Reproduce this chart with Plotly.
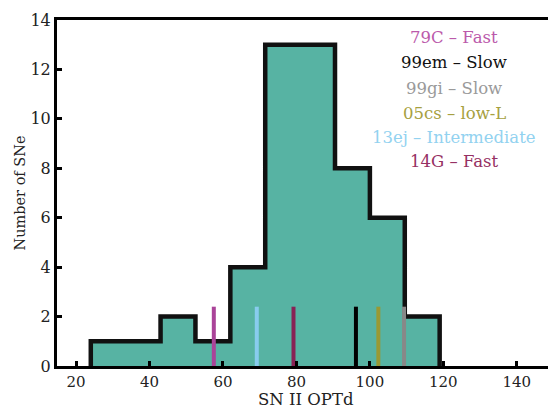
import plotly.graph_objects as go

# Histogram of SN II OPTd values
bin_edges = [24.0, 33.5, 43.0, 52.5, 62.0, 71.5, 81.0, 90.5, 100.0, 109.5, 119.0]
counts = [1, 1, 2, 1, 4, 13, 13, 8, 6, 2]

# Reference supernovae
sn_names = ["79C – Fast", "99em – Slow", "99gi – Slow", "05cs – low-L",
            "13ej – Intermediate", "14G – Fast"]
sn_optd = [57.5, 96.2, 109.3, 102.3, 69.2, 79.2]
sn_line_colors = ["#AA4499", "#000000", "#888888", "#999933", "#88CCEE", "#882255"]
sn_text_colors = ["#bb5aab", "#111111", "#9a9a9a", "#a6a040", "#92d2f0", "#963063"]
marker_height = 2.4

x_ticks = [20, 40, 60, 80, 100, 120, 140]
y_ticks = [0, 2, 4, 6, 8, 10, 12, 14]

FONT = "DejaVu Serif"
fill_color = "#57b3a3"

fig = go.Figure()

centers = [(a + b) / 2 for a, b in zip(bin_edges[:-1], bin_edges[1:])]
widths = [b - a for a, b in zip(bin_edges[:-1], bin_edges[1:])]
fig.add_trace(go.Bar(x=centers, y=counts, width=widths, marker_color=fill_color,
                     marker_line_width=0, showlegend=False, hoverinfo="skip"))

# step outline around the histogram
sx, sy = [bin_edges[0]], [0]
for i, c in enumerate(counts):
    sx += [bin_edges[i], bin_edges[i + 1]]
    sy += [c, c]
sx.append(bin_edges[-1])
sy.append(0)
fig.add_trace(go.Scatter(x=sx, y=sy, mode="lines",
                         line=dict(color="#111111", width=4.5),
                         showlegend=False, hoverinfo="skip"))

for xv, col in zip(sn_optd, sn_line_colors):
    fig.add_trace(go.Scatter(x=[xv, xv], y=[0, marker_height], mode="lines",
                             line=dict(color=col, width=4),
                             showlegend=False, hoverinfo="skip"))

# labels for the reference supernovae
label_px = [37, 62.5, 88, 113, 137, 161.5]
for name, col, py in zip(sn_names, sn_text_colors, label_px):
    fig.add_annotation(x=(454 - 57) / 491, y=(366 - py) / 346, xref="paper", yref="paper",
                       text=name, showarrow=False, xanchor="center", yanchor="middle",
                       font=dict(family=FONT, size=16.5, color=col))

# x-axis title
fig.add_annotation(x=(306 - 57) / 491, y=-(399.5 - 366) / 346, xref="paper", yref="paper",
                   text="SN II OPTd", showarrow=False, xanchor="center", yanchor="middle",
                   font=dict(family=FONT, size=16.5, color="#222222"))

fig.update_layout(
    width=550, height=410,
    margin=dict(l=57, r=2, t=20, b=44),
    plot_bgcolor="white", paper_bgcolor="white",
    bargap=0,
    font=dict(family=FONT, size=16, color="#222222"),
)
fig.update_xaxes(range=[14.8, 148.5], tickvals=x_ticks, ticks="inside", ticklen=5,
                 tickwidth=3, tickcolor="black", showline=True, linewidth=3,
                 linecolor="black", mirror=True, showgrid=False, zeroline=False,
                 tickfont=dict(family=FONT, size=15, color="#222222"))
fig.update_yaxes(range=[0, 14], tickvals=y_ticks, ticks="inside", ticklen=5,
                 tickwidth=3, tickcolor="black", showline=True, linewidth=3,
                 linecolor="black", showgrid=False, zeroline=False,
                 tickfont=dict(family=FONT, size=16, color="#222222"),
                 title=dict(text="Number of SNe", font=dict(family=FONT, size=14.5),
                            standoff=2))

fig.write_html("out.html")
